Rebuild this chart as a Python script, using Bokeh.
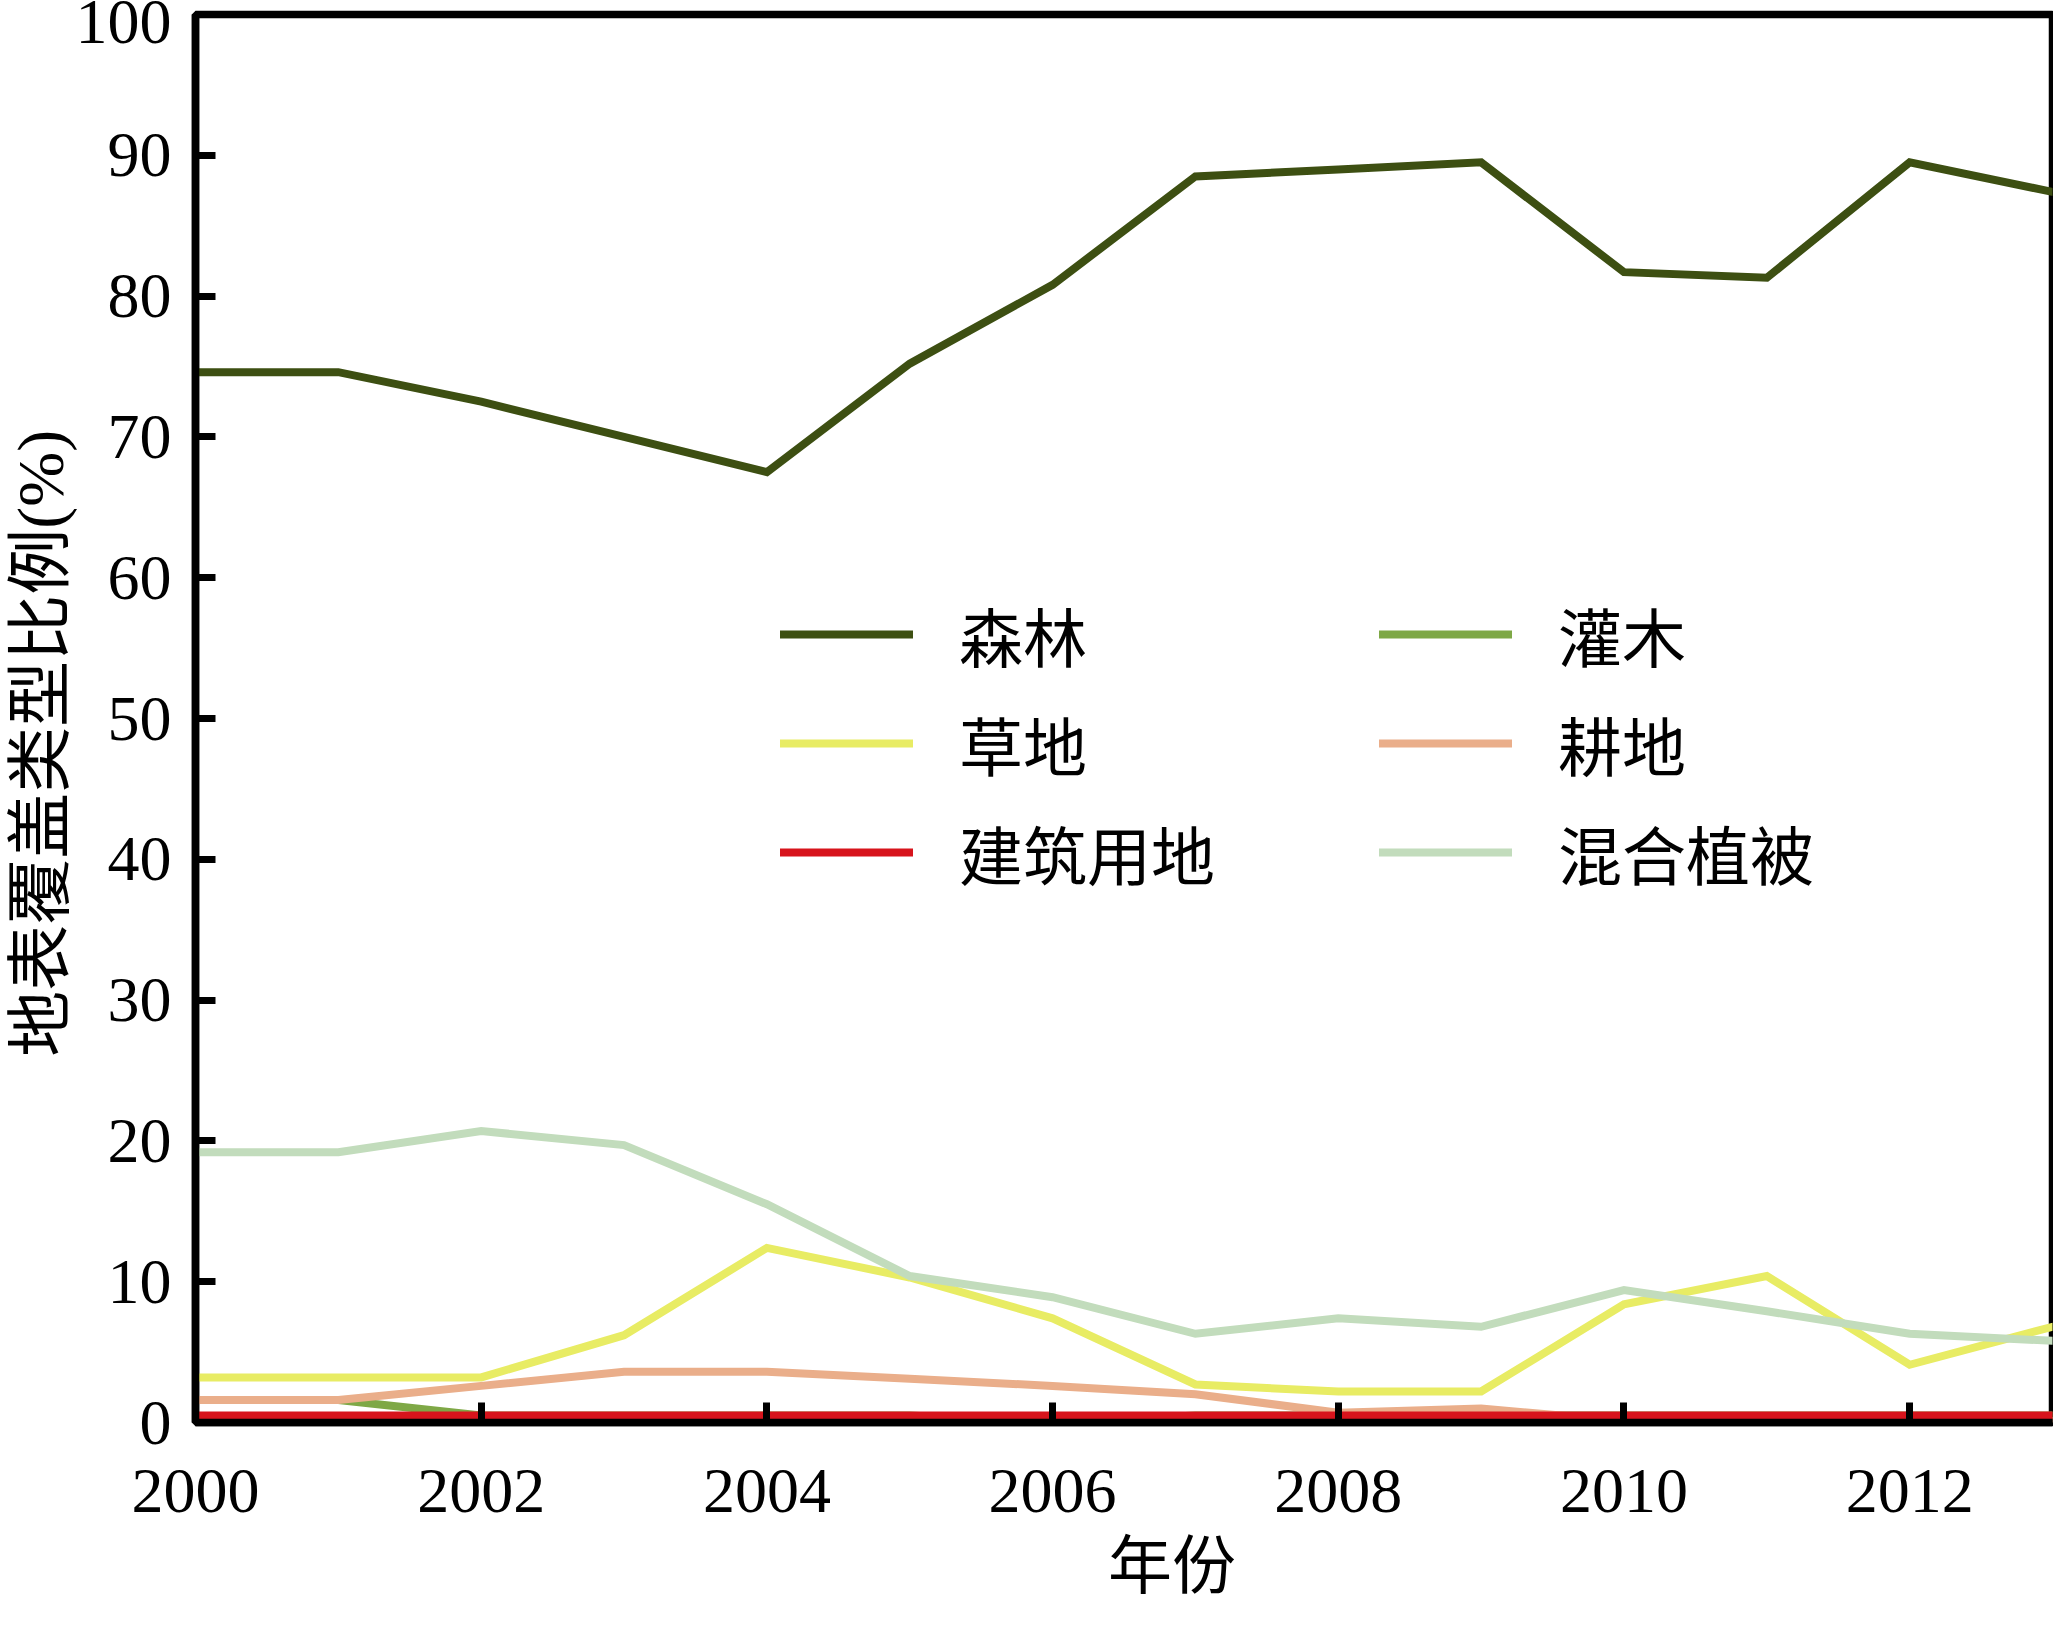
from bokeh.plotting import figure
from bokeh.models import Legend, LegendItem, Range1d, FixedTicker
from bokeh.embed import file_html
from bokeh.resources import INLINE

years = list(range(2000, 2014))
forest = [74.6, 74.6, 72.5, 70.0, 67.5, 75.2, 80.8, 88.5, 89.0, 89.5, 81.7, 81.3, 89.5, 87.4]
shrub = [1.6, 1.6, 0.5, 0.5, 0.5, 0.5, 0.0, 0.5, 0.5, 0.5, 0.5, 0.5, 0.5, 0.5]
grass = [3.2, 3.2, 3.2, 6.2, 12.4, 10.3, 7.4, 2.7, 2.2, 2.2, 8.4, 10.4, 4.1, 6.8]
crop = [1.6, 1.6, 2.6, 3.6, 3.6, 3.1, 2.6, 2.0, 0.7, 1.0, 0.1, 0.1, 0.1, 0.1]
built = [0.5] * 14
mixed = [19.2, 19.2, 20.7, 19.7, 15.5, 10.4, 8.9, 6.3, 7.4, 6.8, 9.4, 7.9, 6.3, 5.8]

names = ["森林", "灌木", "草地", "耕地", "建筑用地", "混合植被"]
colors = ["#3d4f12", "#7ea846", "#e8ec64", "#eaae8a", "#d7141c", "#c2dcbc"]
x_ticks = [2000, 2002, 2004, 2006, 2008, 2010, 2012]
y_ticks = [0, 10, 20, 30, 40, 50, 60, 70, 80, 90, 100]
x_title = "年份"
y_title = "地表覆盖类型比例(%)"

SERIF = "'Liberation Serif', 'Noto Sans CJK SC'"
CJK = "'Noto Sans CJK SC'"
NBSP = "\u00a0"

p = figure(width=2053, height=1612, output_backend="svg", toolbar_location=None,
           x_range=Range1d(2000, 2013), y_range=Range1d(0, 100),
           min_border_left=188, min_border_right=1, min_border_top=14, min_border_bottom=190)
p.grid.visible = False
p.background_fill_color = "white"
p.border_fill_color = "white"
p.outline_line_color = "black"
p.outline_line_width = 7.5

for ax in (p.xaxis[0], p.yaxis[0]):
    ax.axis_line_width = 7.5
    ax.axis_line_color = "black"
    ax.major_tick_in = 20
    ax.major_tick_out = 0
    ax.major_tick_line_width = 7
    ax.major_tick_line_color = "black"
    ax.minor_tick_line_color = None
    ax.major_label_text_font = "Liberation Serif"
    ax.major_label_text_font_size = "64px"
    ax.major_label_text_color = "black"
    ax.axis_label_text_font_style = "normal"
    ax.axis_label_text_color = "black"

p.xaxis.ticker = FixedTicker(ticks=x_ticks)
p.yaxis.ticker = FixedTicker(ticks=y_ticks)
p.xaxis.major_label_standoff = 47
p.yaxis.major_label_standoff = 24
p.xaxis.axis_label = NBSP * 6 + x_title
p.xaxis.axis_label_text_font = SERIF
p.xaxis.axis_label_text_font_size = "64px"
p.xaxis.axis_label_standoff = 16
p.yaxis.axis_label = y_title + NBSP * 3
p.yaxis.axis_label_text_font = SERIF
p.yaxis.axis_label_text_font_size = "66px"
p.yaxis.axis_label_standoff = -4

series = [forest, shrub, grass, crop, built, mixed]
order = [0, 1, 2, 3, 5, 4]
renderers = {}
for i in order:
    r = p.line(years, series[i], line_color=colors[i], line_width=8,
               line_join="miter", line_cap="round")
    renderers[i] = r

def make_legend(idx, x, y):
    lg = Legend(items=[LegendItem(label=names[i], renderers=[renderers[i]]) for i in idx],
                location=(x, y), orientation="vertical",
                glyph_width=133, glyph_height=70, label_height=70, spacing=17,
                label_standoff=46, padding=0, margin=0,
                border_line_color=None, background_fill_alpha=0,
                label_text_font=CJK, label_text_font_size="64px",
                label_text_color="black")
    p.add_layout(lg, "center")

make_legend([0, 2, 4], 585, 524)
make_legend([1, 3, 5], 1184, 524)

open("out.html", "w").write(file_html(p, INLINE))
